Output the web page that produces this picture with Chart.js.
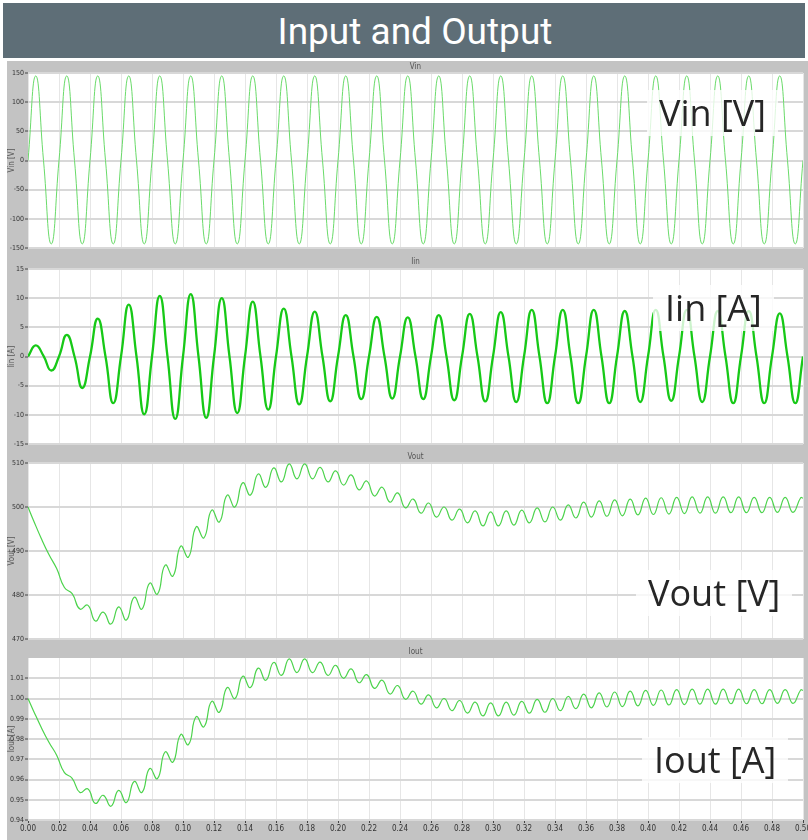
<!DOCTYPE html>
<html>
<head>
<meta charset="utf-8">
<script src="https://cdn.jsdelivr.net/npm/chart.js@4.4.0/dist/chart.umd.min.js"></script>
<style>
  body { margin:0; background:#fff; width:808px; height:840px; overflow:hidden; position:relative; }
  #cabecera { position:absolute; left:3px; top:3px; width:780px; height:55px; padding-left:22px; background:#5e6e77; color:#fff;
              font-family:Roboto, sans-serif; font-size:37px; line-height:57px; text-align:center; }
  canvas { position:absolute; left:7px; }
  .etiqueta { position:absolute; font-family:"Open Sans", sans-serif; font-size:36px; line-height:38px;
              padding:4px 12px; background:rgba(255,255,255,0.78); color:#262626; white-space:nowrap; }
</style>
</head>
<body>
<div id="cabecera">Input and Output</div>
<canvas id="gVin" width="801" height="193" style="top:61px"></canvas>
<canvas id="gIin" width="801" height="195" style="top:254px"></canvas>
<canvas id="gVout" width="801" height="196" style="top:449px"></canvas>
<canvas id="gIout" width="801" height="195" style="top:645px"></canvas>
<div class="etiqueta" style="left:647px; top:90px">Vin [V]</div>
<div class="etiqueta" style="left:653px; top:285px">Iin [A]</div>
<div class="etiqueta" style="left:636px; top:570px">Vout [V]</div>
<div class="etiqueta" style="left:642px; top:737px">Iout [A]</div>
<script>
// Tiempo (s) para Vin e Iin: picos y cruces por cero
const tiempo = [
  0,0.005,0.01,0.015,0.02,0.025,0.03,0.035,0.04,0.045,
  0.05,0.055,0.06,0.065,0.07,0.075,0.08,0.085,0.09,0.095,
  0.1,0.105,0.11,0.115,0.12,0.125,0.13,0.135,0.14,0.145,
  0.15,0.155,0.16,0.165,0.17,0.175,0.18,0.185,0.19,0.195,
  0.2,0.205,0.21,0.215,0.22,0.225,0.23,0.235,0.24,0.245,
  0.25,0.255,0.26,0.265,0.27,0.275,0.28,0.285,0.29,0.295,
  0.3,0.305,0.31,0.315,0.32,0.325,0.33,0.335,0.34,0.345,
  0.35,0.355,0.36,0.365,0.37,0.375,0.38,0.385,0.39,0.395,
  0.4,0.405,0.41,0.415,0.42,0.425,0.43,0.435,0.44,0.445,
  0.45,0.455,0.46,0.465,0.47,0.475,0.48,0.485,0.49,0.495,
  0.5
];

const vin = [
  0,145,0,-143, 0,145,0,-143, 0,145,0,-143, 0,145,0,-143, 0,145,0,-143,
  0,145,0,-143, 0,145,0,-143, 0,145,0,-143, 0,145,0,-143, 0,145,0,-143,
  0,145,0,-143, 0,145,0,-143, 0,145,0,-143, 0,145,0,-143, 0,145,0,-143,
  0,145,0,-143, 0,145,0,-143, 0,145,0,-143, 0,145,0,-143, 0,145,0,-143,
  0,145,0,-143, 0,145,0,-143, 0,145,0,-143, 0,145,0,-143, 0,145,0,-143,
  0
];

const iin = [
  0,1.9,0.1,-2.4, 0,3.7,0,-5.4, 0,6.5,0,-8.0, 0,8.9,0,-9.9, 0,10.4,0,-10.7,
  0,10.7,0,-10.5, 0,10.0,0,-9.7, 0,9.4,0,-9.1, 0,8.2,0,-8.2, 0,7.7,0,-7.7,
  0,7.1,0,-7.3, 0,6.8,0,-7.2, 0,6.7,0,-7.3, 0,7.1,0,-7.5, 0,7.3,0,-7.7,
  0,7.6,0,-7.8, 0,8.0,0,-8.0, 0,8.0,0,-8.0, 0,8.0,0,-8.0, 0,7.8,0,-7.8,
  0,8.0,0,-7.6, 0,8.0,0,-7.8, 0,7.8,0,-8.0, 0,7.8,0,-8.0, 0,7.4,0,-8.0,
  0
];

// Tiempo (s) para Vout e Iout: valles y crestas del rizado
const tiempoSalida = [
  0,0.0035,0.0085,0.0135,0.0185,0.0235,0.0285,0.0335,0.0385,0.0435,
  0.0485,0.0535,0.0585,0.0635,0.0685,0.0735,0.0785,0.0835,0.0885,0.0935,
  0.0985,0.1035,0.1085,0.1135,0.1185,0.1235,0.1285,0.1335,0.1385,0.1435,
  0.1485,0.1535,0.1585,0.1635,0.1685,0.1735,0.1785,0.1835,0.1885,0.1935,
  0.1985,0.2035,0.2085,0.2135,0.2185,0.2235,0.2285,0.2335,0.2385,0.2435,
  0.2485,0.2535,0.2585,0.2635,0.2685,0.2735,0.2785,0.2835,0.2885,0.2935,
  0.2985,0.3035,0.3085,0.3135,0.3185,0.3235,0.3285,0.3335,0.3385,0.3435,
  0.3485,0.3535,0.3585,0.3635,0.3685,0.3735,0.3785,0.3835,0.3885,0.3935,
  0.3985,0.4035,0.4085,0.4135,0.4185,0.4235,0.4285,0.4335,0.4385,0.4435,
  0.4485,0.4535,0.4585,0.4635,0.4685,0.4735,0.4785,0.4835,0.4885,0.4935,
  0.4985,0.5
];

const vout = [
  500,497,492.9,489.2,486,481.7,480.3,476.8,477.7,474.1,
  476.1,473.4,477.3,474.3,479.5,476.8,482.7,480.2,486.8,484.3,
  491.1,488.6,495.5,493,499.3,496.6,502.7,500,505.5,502.7,
  507.5,504.5,508.9,505.7,509.8,506.4,509.8,506.4,509,505.7,
  508.2,505,507.3,503.9,505.9,502.5,504.5,501.1,503.2,499.8,
  501.8,498.6,500.9,497.7,500,497,499.5,496.4,499.1,495.7,
  498.9,495.7,499.1,495.9,499.3,496.4,499.8,496.6,500,497,
  500.5,497.5,501.1,497.7,501.4,497.9,501.6,498,501.8,498.2,
  502,498.3,502.1,498.4,502.2,498.5,502.3,498.6,502.3,498.6,
  502.3,498.7,502.3,498.7,502.2,498.7,502.2,498.8,502.2,498.8,
  502.1,502
];

const iout = [
  1.0,0.994,0.9858,0.9784,0.972,0.9634,0.9606,0.9536,0.9554,0.9482,
  0.9522,0.9468,0.9546,0.9486,0.959,0.9536,0.9654,0.9604,0.9736,0.9686,
  0.9822,0.9772,0.991,0.986,0.9986,0.9932,1.0054,1.0,1.011,1.0054,
  1.015,1.009,1.0178,1.0114,1.0196,1.0128,1.0196,1.0128,1.018,1.0114,
  1.0164,1.01,1.0146,1.0078,1.0118,1.005,1.009,1.0022,1.0064,0.9996,
  1.0036,0.9972,1.0018,0.9954,1.0,0.994,0.999,0.9928,0.9982,0.9914,
  0.9978,0.9914,0.9982,0.9918,0.9986,0.9928,0.9996,0.9932,1.0,0.994,
  1.001,0.995,1.0022,0.9954,1.0028,0.9958,1.0032,0.996,1.0036,0.9964,
  1.004,0.9966,1.0042,0.9968,1.0044,0.997,1.0046,0.9972,1.0046,0.9972,
  1.0046,0.9974,1.0046,0.9974,1.0044,0.9974,1.0044,0.9976,1.0044,0.9976,
  1.0042,1.004
];

const fuenteEje = '"Liberation Sans Narrow", "DejaVu Sans Condensed", sans-serif';

// Fondo gris del panel, zona blanca del trazo y titulo pequeño
const fondoPanel = {
  id: 'fondoPanel',
  beforeDraw(chart, args, opts) {
    const {ctx, chartArea: a, width, height} = chart;
    ctx.save();
    ctx.fillStyle = '#c3c3c3';
    ctx.fillRect(0, 0, width, height);
    ctx.fillStyle = '#fff';
    ctx.fillRect(a.left, a.top, a.right - a.left, a.bottom - a.top);
    ctx.fillStyle = '#555';
    ctx.font = '8px ' + fuenteEje;
    ctx.textAlign = 'center';
    ctx.textBaseline = 'middle';
    ctx.fillText(opts.titulo, (a.left + a.right) / 2, opts.yTitulo);
    ctx.restore();
  }
};

function crearGrafica(id, tiempos, valores, cfg) {
  const puntos = tiempos.map((t, i) => ({x: t, y: valores[i]}));
  return new Chart(document.getElementById(id), {
    type: 'line',
    data: {
      datasets: [{
        data: puntos,
        borderColor: cfg.color,
        borderWidth: cfg.grosor,
        pointRadius: 0,
        tension: 0.5,
        fill: false
      }]
    },
    options: {
      responsive: false,
      animation: false,
      events: [],
      layout: { padding: { top: cfg.arriba, bottom: cfg.abajo, left: 0, right: 5 } },
      plugins: {
        legend: { display: false },
        tooltip: { enabled: false },
        fondoPanel: { titulo: cfg.titulo, yTitulo: cfg.yTitulo }
      },
      scales: {
        x: {
          type: 'linear', min: 0, max: 0.5,
          border: { display: false },
          grid: { color: '#e6e6e6', lineWidth: 1, drawTicks: cfg.ejeX, tickLength: 3, tickColor: '#444', tickWidth: 1 },
          ticks: {
            display: cfg.ejeX, stepSize: 0.02, autoSkip: false, maxRotation: 0, padding: 1,
            font: { family: fuenteEje, size: 8 }, color: '#333',
            callback: v => v.toFixed(2)
          },
          afterFit: s => { s.height = cfg.ejeX ? 20 : 0; s.paddingLeft = 0; s.paddingRight = 0; }
        },
        y: {
          min: cfg.min, max: cfg.max,
          border: { display: false },
          grid: { color: '#d8d8d8', lineWidth: 2, tickLength: 3, tickColor: '#444', tickWidth: 1 },
          ticks: {
            stepSize: cfg.paso, padding: 1,
            font: { family: fuenteEje, size: 7 }, color: '#333',
            callback: cfg.formato
          },
          title: { display: true, text: cfg.tituloY, font: { family: fuenteEje, size: 8 }, color: '#555', padding: 0 },
          afterBuildTicks: cfg.filtro,
          afterFit: s => { s.width = 21; s.paddingTop = 0; s.paddingBottom = 0; }
        }
      }
    },
    plugins: [fondoPanel]
  });
}

crearGrafica('gVin', tiempo, vin, {
  color: '#6adb6a', grosor: 1, titulo: 'Vin', yTitulo: 6, tituloY: 'Vin [V]',
  min: -150, max: 150, paso: 50, formato: v => String(v),
  arriba: 12, abajo: 6, ejeX: false
});
crearGrafica('gIin', tiempo, iin, {
  color: '#17c917', grosor: 2.3, titulo: 'Iin', yTitulo: 8, tituloY: 'Iin [A]',
  min: -15, max: 15, paso: 5, formato: v => String(v),
  arriba: 15, abajo: 5, ejeX: false
});
crearGrafica('gVout', tiempoSalida, vout, {
  color: '#4cd34c', grosor: 1.2, titulo: 'Vout', yTitulo: 8, tituloY: 'Vout [V]',
  min: 470, max: 510, paso: 10, formato: v => String(v),
  arriba: 14, abajo: 6, ejeX: false
});
crearGrafica('gIout', tiempoSalida, iout, {
  color: '#4cd34c', grosor: 1.2, titulo: 'Iout', yTitulo: 7, tituloY: 'Iout [A]',
  min: 0.94, max: 1.02, paso: 0.01, formato: v => v.toFixed(2),
  filtro: s => { s.ticks = s.ticks.filter(t => t.value < 1.015); },
  arriba: 13, abajo: 0, ejeX: true
});
</script>
</body>
</html>
